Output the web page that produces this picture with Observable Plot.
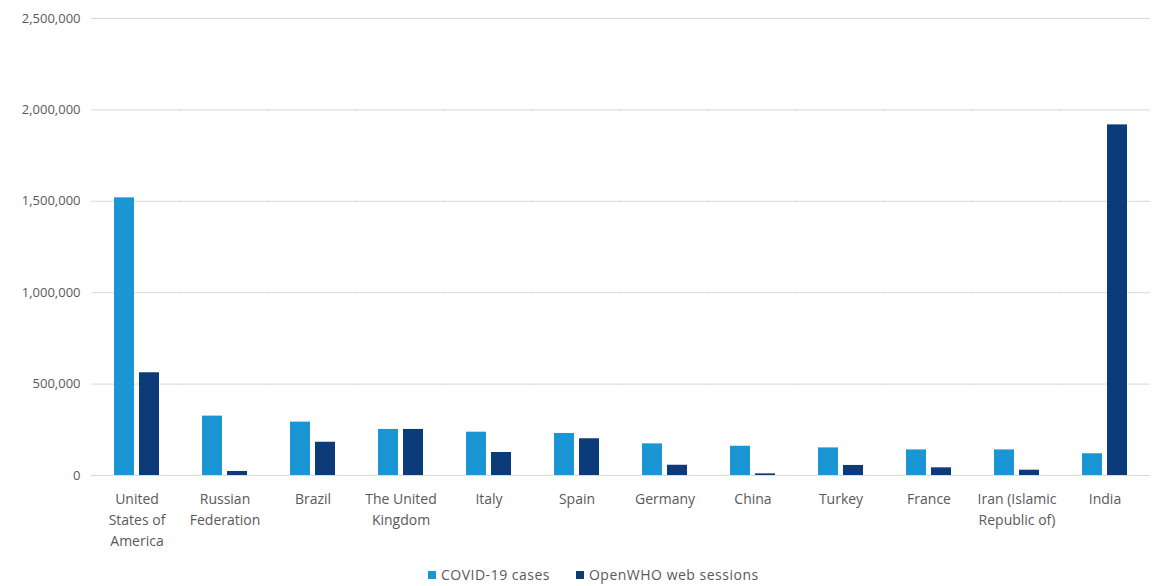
<!DOCTYPE html>
<html>
<head>
<meta charset="utf-8">
<script src="https://cdn.jsdelivr.net/npm/d3@7"></script>
<script src="https://cdn.jsdelivr.net/npm/@observablehq/plot@0.6"></script>
<style>
  html, body { margin: 0; padding: 0; background: #fff; }
  body { font-family: "Open Sans", sans-serif; color: #595959; width: 1153px; }
  #legend { display: flex; gap: 26px; padding-left: 428px; margin-top: 6px; font-size: 14px; letter-spacing: 0.5px; line-height: 18px; }
  #legend .item { display: flex; align-items: center; gap: 5px; }
  #legend .swatch { width: 8px; height: 8px; display: inline-block; }
</style>
</head>
<body>
<div id="chart"></div>
<div id="legend"></div>
<script>
const countries = ["United States of America", "Russian Federation", "Brazil", "The United Kingdom", "Italy", "Spain", "Germany", "China", "Turkey", "France", "Iran (Islamic Republic of)", "India"];
const countryLabels = ["United\nStates of\nAmerica", "Russian\nFederation", "Brazil", "The United\nKingdom", "Italy", "Spain", "Germany", "China", "Turkey", "France", "Iran (Islamic\nRepublic of)", "India"];
const covidCases = [1519000, 325000, 292000, 252000, 237000, 230000, 173000, 160000, 151000, 140000, 140000, 119000];
const openWhoSessions = [562000, 22000, 182000, 252000, 126000, 201000, 56000, 9000, 55000, 42000, 29000, 1918000];
const seriesNames = ["COVID-19 cases", "OpenWHO web sessions"];
const seriesColors = ["#1b96d5", "#0b3b78"];
const yTicks = [0, 500000, 1000000, 1500000, 2000000, 2500000];

const data = countries.flatMap((c, i) => [
  {country: c, series: seriesNames[0], value: covidCases[i]},
  {country: c, series: seriesNames[1], value: openWhoSessions[i]}
]);
const labelOf = new Map(countries.map((c, i) => [c, countryLabels[i]]));

const chart = Plot.plot({
  width: 1153,
  height: 560,
  marginLeft: 87,
  marginRight: 0,
  marginTop: 18,
  marginBottom: 85,
  style: {fontFamily: "Open Sans, sans-serif", color: "#595959", background: "#fff"},
  fx: {domain: countries, paddingInner: 0.493, paddingOuter: 0.2465, label: null},
  x: {domain: seriesNames, paddingInner: 0.2, paddingOuter: 0, axis: null},
  y: {domain: [0, 2500000], label: null},
  color: {domain: seriesNames, range: seriesColors},
  marks: [
    Plot.ruleY(yTicks, {stroke: "#d9d9d9", strokeWidth: 1, insetLeft: -23, insetRight: -23}),
    Plot.axisY(yTicks, {tickSize: 0, tickPadding: 34, fontSize: 13, label: null, tickFormat: d3.format(","), fill: "#595959"}),
    Plot.axisFx({anchor: "bottom", tickSize: 0, tickPadding: 14, fontSize: 14, lineHeight: 1.5, label: null, tickFormat: d => labelOf.get(d), fill: "#595959"}),
    Plot.barY(data, {fx: "country", x: "series", y: "value", fill: "series"})
  ]
});
document.getElementById("chart").append(chart);

const legend = document.getElementById("legend");
seriesNames.forEach((name, i) => {
  const item = document.createElement("span");
  item.className = "item";
  const sw = document.createElement("span");
  sw.className = "swatch";
  sw.style.background = seriesColors[i];
  const t = document.createElement("span");
  t.textContent = name;
  item.append(sw, t);
  legend.append(item);
});
</script>
</body>
</html>
